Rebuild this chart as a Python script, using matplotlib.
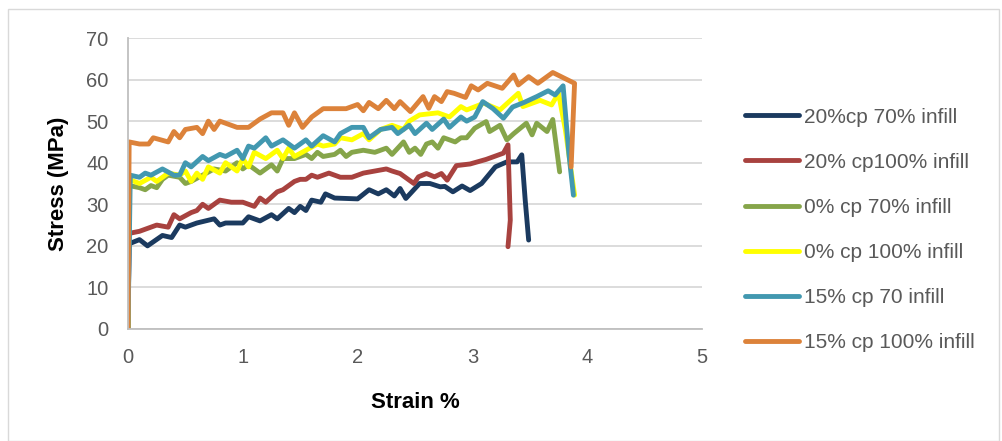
import matplotlib.pyplot as plt
from matplotlib.patches import Rectangle

# Stress-strain data (strain %, stress MPa)
LABELS = ["20%cp 70% infill", "20% cp100% infill", "0% cp 70% infill",
          "0% cp 100% infill", "15% cp 70 infill", "15% cp 100% infill"]
COLORS = ["#1b3a5f", "#a8423f", "#86a54a", "#ffff00", "#4298b0", "#dc823a"]

navy_x = [0, 0, 0.01, 0.1, 0.17, 0.3, 0.38, 0.45, 0.5, 0.6, 0.75, 0.8, 0.85, 1.0, 1.05,
          1.15, 1.25, 1.3, 1.4, 1.45, 1.5, 1.55, 1.6, 1.68, 1.72, 1.8, 2.0, 2.1, 2.18,
          2.25, 2.32, 2.37, 2.42, 2.54, 2.63, 2.72, 2.76, 2.83, 2.91, 2.98, 3.08, 3.2,
          3.3, 3.39, 3.43, 3.46, 3.49]
navy_y = [0, 2, 20.5, 21.5, 20, 22.5, 22, 25, 24.5, 25.5, 26.5, 25, 25.5, 25.5, 27,
          26, 27.5, 26.5, 29, 28, 29.5, 28.5, 31, 30.5, 32.5, 31.5, 31.3, 33.5, 32.5,
          33.5, 32, 33.8, 31.4, 35, 35, 34.2, 34.3, 33, 34.4, 33.3, 35, 39,
          40.2, 40.2, 41.9, 31, 21.4]

red_x = [0, 0.01, 0.1, 0.15, 0.25, 0.35, 0.4, 0.45, 0.55, 0.6, 0.65, 0.7, 0.8, 0.9,
         1.0, 1.1, 1.15, 1.2, 1.3, 1.35, 1.45, 1.5, 1.55, 1.6, 1.65, 1.75, 1.85, 1.95,
         2.05, 2.15, 2.25, 2.3, 2.37, 2.49, 2.53, 2.6, 2.67, 2.73, 2.78, 2.86, 2.98,
         3.12, 3.27, 3.31, 3.33, 3.31]
red_y = [0, 23, 23.5, 24, 25, 24.5, 27.5, 26.5, 28, 28.5, 30, 29, 31, 30.5,
         30.5, 29.5, 31.5, 30.5, 33, 33.5, 35.5, 36, 36, 37, 36.5, 37.5, 36.5, 36.5,
         37.5, 38, 38.5, 38, 37.4, 35, 36.6, 37.4, 36.6, 37.4, 35.8, 39.3, 39.7,
         40.8, 42.3, 44.3, 26.2, 19.8]

green_x = [0, 0.01, 0.1, 0.15, 0.2, 0.25, 0.3, 0.35, 0.45, 0.5, 0.55, 0.65, 0.75, 0.85,
           0.95, 1.0, 1.05, 1.15, 1.25, 1.3, 1.35, 1.45, 1.55, 1.6, 1.65, 1.7, 1.8,
           1.85, 1.9, 1.95, 2.05, 2.15, 2.25, 2.3, 2.35, 2.4, 2.45, 2.5, 2.55, 2.6,
           2.65, 2.7, 2.75, 2.8, 2.85, 2.9, 2.95, 3.02, 3.12, 3.15, 3.24, 3.3, 3.36,
           3.47, 3.52, 3.56, 3.65, 3.7, 3.76]
green_y = [0, 34.5, 34, 33.5, 34.5, 34, 36, 37, 36.5, 35, 35.5, 37, 38.5, 38,
           40, 38.5, 39.5, 37.5, 39.5, 38, 41, 41, 42, 41, 42.5, 41.5, 42,
           43, 41.5, 42.5, 43, 42.5, 43.5, 42, 43.5, 45, 42.5, 43.5, 42, 44.5,
           45, 43.5, 46, 45.5, 45, 46, 46, 48.3, 49.9, 47.5, 49, 45.5, 47,
           49.5, 46.7, 49.5, 47.5, 50.4, 37.8]

yellow_x = [0, 0.01, 0.1, 0.2, 0.25, 0.35, 0.45, 0.5, 0.55, 0.6, 0.65, 0.7, 0.8, 0.85,
            0.95, 1.0, 1.05, 1.1, 1.2, 1.3, 1.35, 1.4, 1.45, 1.55, 1.65, 1.7, 1.8,
            1.85, 1.95, 2.05, 2.1, 2.2, 2.3, 2.4, 2.45, 2.54, 2.7, 2.8, 2.9, 2.95,
            3.1, 3.24, 3.4, 3.44, 3.59, 3.69, 3.75, 3.81, 3.89]
yellow_y = [0, 36, 35, 36.5, 35.5, 37.5, 37, 38, 35.5, 37.5, 36, 39, 37.5, 40,
            38, 41, 39, 42.5, 41, 43, 41, 43.5, 41.5, 43, 44.5, 44, 44.5,
            46, 45.5, 47, 45.5, 48, 49, 48, 50, 51.5, 52, 51, 53.5, 52.7,
            54.3, 52.7, 56.7, 53.5, 55, 53.9, 56.7, 47.9, 32.2]

cyan_x = [0, 0.02, 0.1, 0.15, 0.2, 0.3, 0.4, 0.45, 0.5, 0.55, 0.65, 0.7, 0.8, 0.85,
          0.95, 1.0, 1.05, 1.1, 1.2, 1.25, 1.35, 1.45, 1.55, 1.6, 1.7, 1.8, 1.85,
          1.95, 2.05, 2.1, 2.2, 2.3, 2.35, 2.45, 2.5, 2.6, 2.65, 2.75, 2.8, 2.9,
          2.95, 3.02, 3.09, 3.18, 3.27, 3.35, 3.45, 3.56, 3.66, 3.72, 3.79, 3.84, 3.88]
cyan_y = [0, 37, 36.5, 37.5, 37, 38.5, 37, 37, 40, 39, 41.5, 40.5, 42, 41.5,
          43, 41, 44, 43.5, 46, 44, 45.5, 43.5, 45.5, 44, 46.5, 45, 47,
          48.5, 48.5, 46, 48, 48.5, 47, 49, 47, 49.5, 48, 50.5, 48.5, 51,
          50, 51, 54.7, 53, 50.7, 53.4, 54.5, 55.9, 57.3, 56.3, 58.5, 42.3, 32.2]

orange_x = [0, 0.01, 0.1, 0.18, 0.22, 0.35, 0.4, 0.45, 0.5, 0.6, 0.65, 0.7, 0.75, 0.8,
            0.95, 1.05, 1.15, 1.25, 1.35, 1.4, 1.45, 1.52, 1.6, 1.7, 1.9, 2.0, 2.05,
            2.1, 2.18, 2.25, 2.32, 2.37, 2.46, 2.57, 2.62, 2.67, 2.73, 2.78, 2.84,
            2.94, 2.99, 3.05, 3.13, 3.26, 3.36, 3.4, 3.49, 3.57, 3.7, 3.89, 3.86]
orange_y = [0, 45, 44.5, 44.5, 46, 45, 47.5, 46, 48, 48.5, 47, 50, 48, 50,
            48.5, 48.5, 50.5, 52, 52, 49, 52, 48.5, 51, 53, 53, 54, 52.5,
            54.5, 53, 55, 53, 54.7, 52.3, 55.9, 53.1, 55.9, 54.7, 57.1, 56.7,
            55.7, 58.5, 57.5, 59.1, 57.9, 61.1, 58.7, 60.7, 59.1, 61.7, 59.1, 39]

SERIES = [(navy_x, navy_y), (red_x, red_y), (green_x, green_y),
          (yellow_x, yellow_y), (cyan_x, cyan_y), (orange_x, orange_y)]

plt.rcParams["font.family"] = ["Liberation Sans", "DejaVu Sans"]

fig = plt.figure(figsize=(10.02, 4.41), dpi=100)
fig.patches.append(Rectangle((8 / 1002, 0), 991 / 1002, 432 / 441, transform=fig.transFigure,
                             fill=False, edgecolor="#d9d9d9", lw=1.0))
ax = fig.add_axes([128 / 1002, 1 - 329 / 441, 574 / 1002, 291 / 441])

for (xs, ys), color, label in zip(SERIES, COLORS, LABELS):
    ax.plot(xs, ys, color=color, lw=3.5, label=label, solid_capstyle="round",
            solid_joinstyle="round")

ax.set_xlim(0, 5)
ax.set_ylim(0, 70)
ax.set_xticks(range(0, 6))
ax.set_yticks(range(0, 80, 10))
ax.grid(axis="y", color="#d9d9d9", lw=1.3)
ax.set_axisbelow(True)
for side in ["top", "right"]:
    ax.spines[side].set_visible(False)
ax.spines["left"].set_color("#bfbfbf")
ax.spines["left"].set_linewidth(1.3)
ax.spines["bottom"].set_color("#bfbfbf")
ax.spines["bottom"].set_linewidth(1.3)
ax.tick_params(length=0, labelsize=14.5, labelcolor="#595959", pad=14)

ax.set_xlabel("Strain %", fontsize=16, fontweight="bold", color="black")
ax.xaxis.set_label_coords(0.5, -0.215)
ax.set_ylabel("Stress (MPa)", fontsize=16, fontweight="bold", color="black")
ax.yaxis.set_label_coords(-0.103, 0.5)

fig.legend(loc="upper left", bbox_to_anchor=(726 / 1002, 1 - 89 / 441), frameon=False,
           fontsize=15, labelcolor="#595959", handlelength=2.6, handletextpad=0.25,
           labelspacing=1.25)

fig.savefig("out.png", dpi=100)
